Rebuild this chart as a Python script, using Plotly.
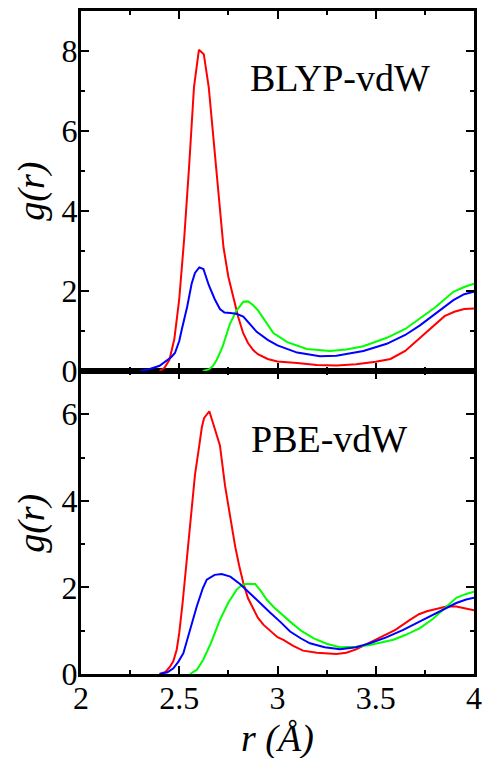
import plotly.graph_objects as go

# ---- BLYP-vdW (top panel) ----
blyp_red_r = [2.40, 2.425, 2.45, 2.475, 2.50, 2.525, 2.55, 2.575, 2.60, 2.625, 2.65, 2.675, 2.70, 2.725, 2.75, 2.775, 2.80, 2.825, 2.85, 2.875, 2.90, 2.95, 3.0, 3.1, 3.2, 3.3, 3.4, 3.5, 3.575, 3.65, 3.7, 3.75, 3.8, 3.85, 3.9, 3.95, 4.0]
blyp_red_g = [0.0, 0.08, 0.28, 0.8, 1.8, 3.3, 5.1, 7.1, 8.03, 7.92, 7.1, 5.8, 4.5, 3.1, 2.35, 1.85, 1.35, 0.95, 0.7, 0.53, 0.42, 0.3, 0.24, 0.2, 0.15, 0.14, 0.17, 0.23, 0.3, 0.5, 0.72, 0.95, 1.17, 1.37, 1.48, 1.55, 1.56]

blyp_blue_r = [2.30, 2.35, 2.40, 2.436, 2.46, 2.478, 2.50, 2.512, 2.54, 2.563, 2.58, 2.602, 2.623, 2.65, 2.68, 2.707, 2.73, 2.76, 2.79, 2.826, 2.85, 2.894, 2.95, 3.0, 3.1, 3.216, 3.3, 3.437, 3.556, 3.65, 3.725, 3.8, 3.895, 3.95, 4.0]
blyp_blue_g = [0.0, 0.05, 0.13, 0.25, 0.35, 0.45, 0.75, 1.02, 1.6, 2.18, 2.45, 2.59, 2.55, 2.15, 1.8, 1.55, 1.46, 1.45, 1.43, 1.36, 1.22, 0.98, 0.78, 0.64, 0.46, 0.37, 0.38, 0.5, 0.68, 0.9, 1.14, 1.42, 1.77, 1.92, 1.98]

blyp_green_r = [2.62, 2.65, 2.67, 2.69, 2.72, 2.758, 2.79, 2.826, 2.85, 2.875, 2.90, 2.94, 2.979, 3.05, 3.149, 3.267, 3.35, 3.437, 3.556, 3.65, 3.725, 3.8, 3.895, 3.95, 4.0]
blyp_green_g = [0.0, 0.04, 0.12, 0.27, 0.6, 1.18, 1.5, 1.73, 1.74, 1.65, 1.52, 1.22, 0.95, 0.72, 0.55, 0.5, 0.54, 0.62, 0.83, 1.05, 1.31, 1.58, 1.98, 2.1, 2.18]

# ---- PBE-vdW (bottom panel) ----
pbe_red_r = [2.40, 2.43, 2.453, 2.47, 2.487, 2.50, 2.517, 2.535, 2.555, 2.58, 2.602, 2.615, 2.626, 2.653, 2.673, 2.69, 2.707, 2.733, 2.76, 2.784, 2.805, 2.826, 2.85, 2.877, 2.90, 2.928, 2.962, 3.0, 3.03, 3.08, 3.13, 3.2, 3.3, 3.35, 3.40, 3.45, 3.52, 3.6, 3.674, 3.72, 3.76, 3.82, 3.86, 3.91, 3.95, 4.0]
pbe_red_g = [0.0, 0.05, 0.17, 0.3, 0.56, 0.95, 1.64, 2.5, 3.58, 4.6, 5.28, 5.7, 5.91, 6.07, 5.78, 5.55, 5.28, 4.35, 3.6, 2.96, 2.5, 2.1, 1.75, 1.49, 1.3, 1.14, 1.0, 0.85, 0.79, 0.65, 0.54, 0.49, 0.46, 0.49, 0.57, 0.68, 0.83, 1.02, 1.25, 1.38, 1.45, 1.52, 1.56, 1.56, 1.52, 1.47]

pbe_blue_r = [2.40, 2.44, 2.47, 2.495, 2.521, 2.55, 2.589, 2.62, 2.64, 2.68, 2.716, 2.76, 2.809, 2.87, 2.928, 2.962, 3.013, 3.064, 3.12, 3.165, 3.24, 3.318, 3.40, 3.47, 3.55, 3.64, 3.71, 3.776, 3.85, 3.91, 3.96, 4.0]
pbe_blue_g = [0.0, 0.04, 0.13, 0.28, 0.48, 0.95, 1.56, 1.98, 2.18, 2.29, 2.31, 2.25, 2.08, 1.82, 1.56, 1.42, 1.21, 0.98, 0.82, 0.71, 0.62, 0.57, 0.62, 0.71, 0.84, 1.02, 1.18, 1.33, 1.5, 1.64, 1.72, 1.76]

pbe_green_r = [2.555, 2.59, 2.622, 2.66, 2.707, 2.75, 2.792, 2.82, 2.843, 2.886, 2.915, 2.945, 2.98, 3.013, 3.064, 3.12, 3.182, 3.25, 3.318, 3.40, 3.47, 3.59, 3.65, 3.725, 3.79, 3.844, 3.91, 3.96, 4.0]
pbe_green_g = [0.0, 0.1, 0.33, 0.7, 1.25, 1.65, 1.95, 2.06, 2.08, 2.08, 1.92, 1.72, 1.55, 1.41, 1.21, 1.0, 0.83, 0.7, 0.62, 0.63, 0.67, 0.79, 0.9, 1.06, 1.27, 1.49, 1.76, 1.85, 1.90]

x_tickvals = [2, 2.5, 3, 3.5, 4]
x_ticktext = ["2", "2.5", "3", "3.5", "4"]
top_tickvals = [0, 2, 4, 6, 8]
bottom_tickvals = [0, 2, 4, 6]

RED, GREEN, BLUE = "#ff0000", "#00ff00", "#0000ff"
LW = 2

fig = go.Figure()
for r, g, c in [(blyp_red_r, blyp_red_g, RED), (blyp_green_r, blyp_green_g, GREEN), (blyp_blue_r, blyp_blue_g, BLUE)]:
    fig.add_trace(go.Scatter(x=r, y=g, mode="lines", line=dict(color=c, width=LW), xaxis="x2", yaxis="y2", showlegend=False))
for r, g, c in [(pbe_red_r, pbe_red_g, RED), (pbe_green_r, pbe_green_g, GREEN), (pbe_blue_r, pbe_blue_g, BLUE)]:
    fig.add_trace(go.Scatter(x=r, y=g, mode="lines", line=dict(color=c, width=LW), xaxis="x", yaxis="y", showlegend=False))

FONT = "Liberation Serif"
TICKFONT = dict(family=FONT, size=32, color="black")
split = 303 / 663

minor = dict(ticks="inside", ticklen=4, tickwidth=2, tickcolor="black", showgrid=False)
common_axis = dict(showline=True, linecolor="black", linewidth=3, mirror="ticks",
                   ticks="inside", ticklen=8, tickwidth=2, tickcolor="black",
                   showgrid=False, zeroline=False, tickfont=TICKFONT, automargin=False)

fig.update_layout(
    width=484, height=758,
    margin=dict(l=81, r=10, t=11, b=84),
    plot_bgcolor="white", paper_bgcolor="white",
    xaxis=dict(common_axis, range=[2, 4], tickvals=x_tickvals, ticktext=x_ticktext,
               anchor="y", domain=[0, 1], ticklabelstandoff=-6,
               minor=dict(minor, dtick=0.25, tick0=2)),
    yaxis=dict(common_axis, range=[0, 7], tickvals=bottom_tickvals, anchor="x", domain=[0, split], ticklabelstandoff=-6,
               minor=dict(minor, dtick=1, tick0=0)),
    xaxis2=dict(common_axis, range=[2, 4], tickvals=x_tickvals, showticklabels=False,
                anchor="y2", domain=[0, 1], matches="x",
                minor=dict(minor, dtick=0.25, tick0=2)),
    yaxis2=dict(common_axis, range=[0, 9], tickvals=top_tickvals, anchor="x2", domain=[split, 1], ticklabelstandoff=-6,
                minor=dict(minor, dtick=1, tick0=0)),
)

ann_font = dict(family=FONT, size=38, color="black")
title_font = dict(family=FONT, size=38, color="black")
fig.add_annotation(text="BLYP-vdW", xref="paper", yref="paper", x=0.425, y=0.899, xanchor="left", yanchor="middle",
                   showarrow=False, font=ann_font)
fig.add_annotation(text="PBE-vdW", xref="paper", yref="paper", x=0.4275, y=0.3545, xanchor="left", yanchor="middle",
                   showarrow=False, font=ann_font)
fig.add_annotation(text="<i>g(r)</i>", xref="paper", yref="paper", x=-0.1247, y=0.729, xanchor="center", yanchor="middle",
                   textangle=-90, showarrow=False, font=title_font)
fig.add_annotation(text="<i>g(r)</i>", xref="paper", yref="paper", x=-0.1247, y=0.228, xanchor="center", yanchor="middle",
                   textangle=-90, showarrow=False, font=title_font)
fig.add_annotation(text="<i>r (Å)</i>", xref="paper", yref="paper", x=0.5, y=-0.097, xanchor="center", yanchor="middle",
                   showarrow=False, font=title_font)

fig.write_html("out.html")
